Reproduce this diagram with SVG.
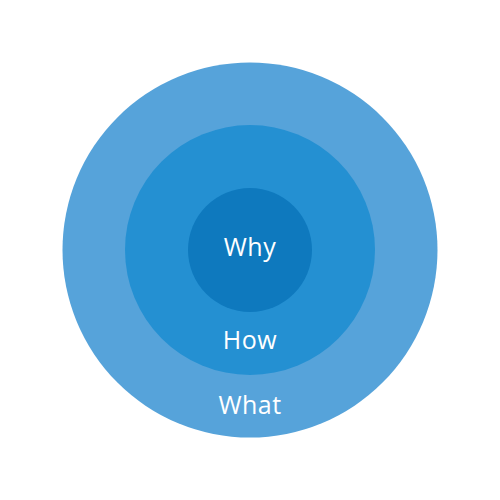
<svg xmlns="http://www.w3.org/2000/svg" width="500" height="500" viewBox="0 0 500 500">
<style>
.lbl{font-family:"Open Sans","Noto Sans",sans-serif;font-size:25px;fill:#ffffff;text-anchor:middle;letter-spacing:0.5px}
</style>
<rect width="500" height="500" fill="#ffffff"/>
<g id="what">
<circle cx="250" cy="250" r="187.5" fill="#56a3da"/>
<text class="lbl" x="250" y="413.5">What</text>
</g>
<g id="how">
<circle cx="250" cy="250" r="125" fill="#2490d2"/>
<text class="lbl" x="250" y="349">How</text>
</g>
<g id="why">
<circle cx="250" cy="250" r="62" fill="#0e79be"/>
<text class="lbl" x="250" y="256">Why</text>
</g>
<g id="connectors"/>
</svg>
